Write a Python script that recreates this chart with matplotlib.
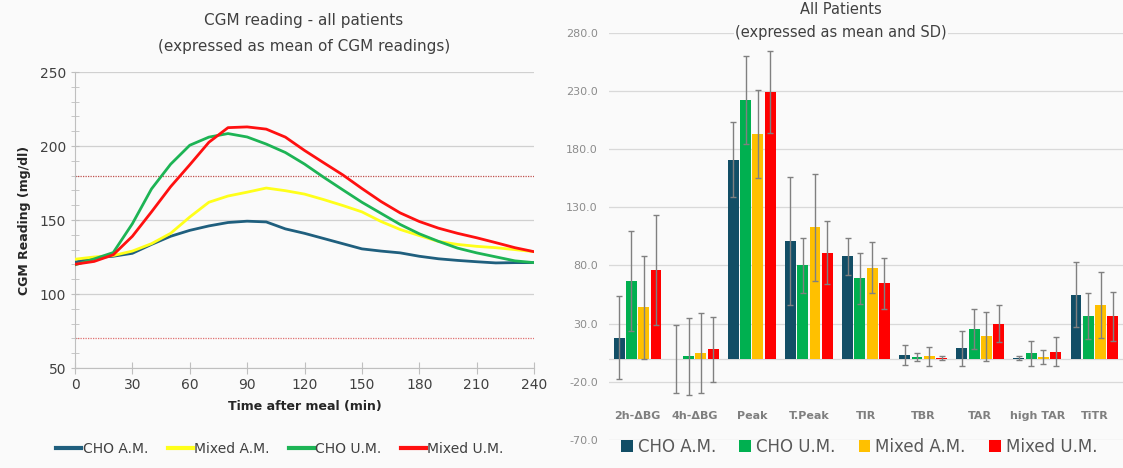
import matplotlib
matplotlib.use("Agg")
import matplotlib.pyplot as plt
from matplotlib.patches import Patch
from matplotlib.lines import Line2D
import numpy as np

# ---------------- Data: left chart (CGM curves) ----------------
time_min = [0, 10, 20, 30, 40, 50, 60, 70, 80, 90, 100, 110, 120,
            130, 140, 150, 160, 170, 180, 190, 200, 210, 220, 230, 240]
cho_am = [121.5, 124.5, 125.5, 127.5, 133.5, 139, 143, 146, 148.3, 149.2, 148.7, 144, 141,
          137.5, 134, 130.5, 129, 127.8, 125.5, 123.8, 122.7, 121.8, 121, 121.2, 121.2]
mixed_am = [123.5, 125, 126, 129, 134, 141, 152, 162, 166.2, 168.8, 171.6, 169.8, 167.5,
            163.8, 159.8, 155.5, 149, 143.6, 139.5, 135.5, 133.5, 132.2, 131.3, 130, 128.6]
cho_um = [119.7, 123.7, 128, 147.5, 171, 187.7, 200.5, 206, 208.4, 206.1, 201.3, 195.6, 187.8,
          178.9, 170.4, 162, 154.5, 147, 140.7, 135.6, 131, 127.8, 125.1, 122.4, 121.2]
mixed_um = [120.1, 122, 126.5, 139, 155.5, 172.5, 187.3, 202.5, 212.4, 212.9, 211.4, 206, 197,
            188.7, 180.5, 171.3, 162.5, 154.8, 149, 144.5, 141, 138, 134.7, 131.3, 128.6]
line_labels = ["CHO A.M.", "Mixed A.M.", "CHO U.M.", "Mixed U.M."]
ref_high = 180
ref_low = 70

# ---------------- Data: right chart (bars, mean and SD) ----------------
categories = ["2h-\u0394BG", "4h-\u0394BG", "Peak", "T.Peak", "TIR", "TBR", "TAR", "high TAR", "TiTR"]
bar_labels = ["CHO A.M.", "CHO U.M.", "Mixed A.M.", "Mixed U.M."]
mean_cho_am = [18, -0.5, 171, 101, 88, 3, 9, 0.5, 55]
sd_cho_am = [36, 29.5, 32, 55, 16, 8.5, 15, 2, 28]
mean_cho_um = [67, 2, 222, 80, 69, 1.5, 25.5, 4.5, 36.5]
sd_cho_um = [43, 33, 38, 24, 22, 3.5, 17.5, 10.5, 20]
mean_mixed_am = [44, 5, 193, 113, 78, 2, 19, 1.5, 46]
sd_mixed_am = [44, 34.5, 38, 46, 22, 8, 21, 6, 28]
mean_mixed_um = [76, 8, 229, 91, 64.6, 0.3, 30, 6, 36.5]
sd_mixed_um = [47, 28, 35, 27, 22, 1.5, 16, 12.7, 21]

# ---------------- Styling ----------------
BG = "#fafafa"
line_colors = ["#1f5f7e", "#ffff1a", "#1db455", "#ff1010"]
bar_colors = ["#124e66", "#00b050", "#ffc000", "#ff0000"]

plt.rcParams["font.family"] = ["DejaVu Sans"]
fig = plt.figure(figsize=(11.23, 4.68), dpi=100, facecolor=BG)

# ---------------- Left chart ----------------
W, H = 1123, 468
axL = fig.add_axes([75 / W, (H - 368) / H, 459 / W, 296 / H], facecolor=BG)
series = [cho_am, mixed_am, cho_um, mixed_um]
for vals, c, lab in zip(series, line_colors, line_labels):
    axL.plot(time_min, vals, color=c, lw=2.0, label=lab, solid_capstyle="round",
             solid_joinstyle="round", zorder=3)
axL.axhline(ref_high, color="#c0504d", lw=0.9, ls=(0, (1, 1)), zorder=2)
axL.axhline(ref_low, color="#e07070", lw=0.9, ls=(0, (1, 1)), zorder=2)
axL.set_xlim(0, 240)
axL.set_ylim(50, 250)
axL.set_xticks(np.arange(0, 241, 30))
axL.set_yticks(np.arange(50, 251, 50))
axL.set_yticks(np.arange(50, 251, 10), minor=True)
axL.grid(axis="y", which="major", color="#d0d0d0", lw=0.9, zorder=1)
for s in ["top", "right"]:
    axL.spines[s].set_visible(False)
axL.spines["left"].set_color("#bfbfbf")
axL.spines["bottom"].set_color("#bfbfbf")
axL.tick_params(axis="x", direction="inout", length=8, color="#bfbfbf", labelsize=10,
                labelcolor="#404040", pad=3)
axL.tick_params(axis="y", which="both", direction="inout", length=6, color="#bfbfbf",
                labelsize=10, labelcolor="#404040")
axL.set_xlabel("Time after meal (min)", fontsize=9, fontweight="bold", color="#262626", labelpad=6)
axL.set_ylabel("CGM Reading (mg/dl)", fontsize=9, fontweight="bold", color="#262626", labelpad=6)
fig.text(304 / W, 1 - 20 / H, "CGM reading - all patients", ha="center", va="center",
         fontsize=11, color="#404040")
fig.text(304 / W, 1 - 46 / H, "(expressed as mean of CGM readings)", ha="center", va="center",
         fontsize=11, color="#404040")
handlesL = [Line2D([0], [0], color=c, lw=3) for c in line_colors]
fig.legend(handlesL, line_labels, loc="center", bbox_to_anchor=(280 / W, 1 - 449 / H), ncol=4,
           frameon=False, fontsize=10, handlelength=1.8, handletextpad=0.1, columnspacing=1.4,
           labelcolor="#404040")

# ---------------- Right chart ----------------
axR = fig.add_axes([609 / W, (H - 440) / H, 514 / W, 407.3 / H], facecolor=BG)
x = np.arange(len(categories))
bw = 0.19
step = 0.215
means = [mean_cho_am, mean_cho_um, mean_mixed_am, mean_mixed_um]
sds = [sd_cho_am, sd_cho_um, sd_mixed_am, sd_mixed_um]
for i, (m, s, c, lab) in enumerate(zip(means, sds, bar_colors, bar_labels)):
    pos = x + (i - 1.5) * step
    axR.bar(pos, m, width=bw, color=c, label=lab, zorder=3)
    axR.errorbar(pos, m, yerr=s, fmt="none", ecolor="#808080", elinewidth=1.0, capsize=2.5,
                 capthick=1.0, zorder=4)
axR.axhline(0, color="#d9d9d9", lw=0.9, zorder=2)
axR.set_xlim(-0.5, len(categories) - 0.5)
axR.set_ylim(-70, 280)
yt = np.arange(-70, 281, 50)
axR.set_yticks(yt)
axR.set_yticklabels([f"{v:.1f}" for v in yt])
axR.grid(axis="y", color="#d9d9d9", lw=0.9, zorder=1)
for s in axR.spines.values():
    s.set_visible(False)
axR.set_xticks(x)
axR.set_xticklabels(categories, fontsize=8, fontweight="bold", color="#7f7f7f")
axR.tick_params(axis="x", length=0, pad=-21)
axR.tick_params(axis="y", length=0, labelsize=8, labelcolor="#8c8c8c", pad=8)
fig.text(841 / W, 1 - 9 / H, "All Patients", ha="center", va="center", fontsize=10.5, color="#404040")
fig.text(841 / W, 1 - 32 / H, "(expressed as mean and SD)", ha="center", va="center",
         fontsize=10.5, color="#404040", bbox=dict(facecolor=BG, edgecolor="none", pad=0.5))
handlesR = [Patch(facecolor=c) for c in bar_colors]
fig.legend(handlesR, bar_labels, loc="center left", bbox_to_anchor=(606 / W, 1 - 447 / H), ncol=4,
           frameon=False, fontsize=12, handlelength=0.7, handleheight=0.7, handletextpad=0.3,
           columnspacing=1.4, labelcolor="#595959")

fig.savefig("out.png", dpi=100, facecolor=BG)
